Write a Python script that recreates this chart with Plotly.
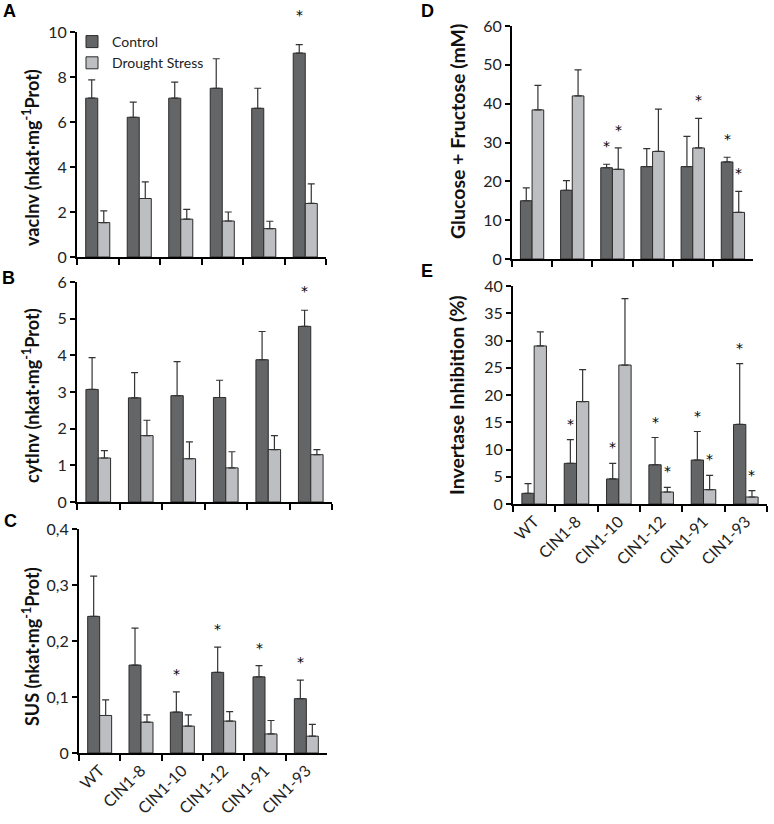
import plotly.graph_objects as go

categories = ["WT", "CIN1-8", "CIN1-10", "CIN1-12", "CIN1-91", "CIN1-93"]

# Panel A: vacInv
vac_control = [7.06, 6.21, 7.06, 7.50, 6.61, 9.06]
vac_control_sd = [0.81, 0.67, 0.71, 1.31, 0.89, 0.38]
vac_drought = [1.53, 2.60, 1.68, 1.60, 1.26, 2.38]
vac_drought_sd = [0.52, 0.74, 0.44, 0.40, 0.33, 0.87]
vac_control_sig = [0, 0, 0, 0, 0, 1]
vac_drought_sig = [0, 0, 0, 0, 0, 0]

# Panel B: cytInv
cyt_control = [3.07, 2.84, 2.90, 2.85, 3.88, 4.79]
cyt_control_sd = [0.87, 0.69, 0.93, 0.47, 0.77, 0.44]
cyt_drought = [1.20, 1.81, 1.18, 0.93, 1.43, 1.29]
cyt_drought_sd = [0.20, 0.42, 0.46, 0.44, 0.38, 0.14]
cyt_control_sig = [0, 0, 0, 0, 0, 1]
cyt_drought_sig = [0, 0, 0, 0, 0, 0]

# Panel C: SUS
sus_control = [0.244, 0.157, 0.073, 0.144, 0.136, 0.097]
sus_control_sd = [0.072, 0.066, 0.036, 0.045, 0.020, 0.033]
sus_drought = [0.067, 0.055, 0.048, 0.057, 0.034, 0.030]
sus_drought_sd = [0.028, 0.013, 0.020, 0.017, 0.024, 0.021]
sus_control_sig = [0, 0, 1, 1, 1, 1]
sus_drought_sig = [0, 0, 0, 0, 0, 0]

# Panel D: Glucose + Fructose
glc_control = [15.0, 17.7, 23.5, 23.8, 23.8, 25.0]
glc_control_sd = [3.3, 2.5, 0.9, 4.6, 7.8, 1.2]
glc_drought = [38.4, 42.0, 23.1, 27.7, 28.6, 12.0]
glc_drought_sd = [6.3, 6.7, 5.5, 10.9, 7.6, 5.4]
glc_control_sig = [0, 0, 1, 0, 0, 1]
glc_drought_sig = [0, 0, 1, 0, 1, 1]

# Panel E: Invertase inhibition
inh_control = [1.96, 7.46, 4.60, 7.20, 8.07, 14.6]
inh_control_sd = [1.77, 4.34, 2.86, 5.00, 5.23, 11.15]
inh_drought = [29.0, 18.8, 25.5, 2.20, 2.63, 1.28]
inh_drought_sd = [2.60, 5.85, 12.2, 0.86, 2.63, 1.17]
inh_control_sig = [0, 1, 1, 1, 1, 1]
inh_drought_sig = [0, 0, 0, 1, 1, 1]

W, H = 774, 824
FONT = "Lato"
CTRL_COLOR = "#646567"
DR_COLOR = "#BDBEC1"
EDGE = "#2b2b2b"


def fx(px):
    return px / W


def fy(py):
    return 1 - py / H


panels = [
    dict(letter="A", ctrl=vac_control, csd=vac_control_sd, dr=vac_drought, dsd=vac_drought_sd,
         csig=vac_control_sig, dsig=vac_drought_sig, yr=[0, 10], dtick=2,
         title="vacInv (nkat·mg<sup>-1</sup>Prot)", xd=(77, 326), yd=(257, 32),
         labels=False, tpos=(31, 158), tsize=18, lpos=(9, 11), star_shift=20),
    dict(letter="B", ctrl=cyt_control, csd=cyt_control_sd, dr=cyt_drought, dsd=cyt_drought_sd,
         csig=cyt_control_sig, dsig=cyt_drought_sig, yr=[0, 6], dtick=1,
         title="cytInv (nkat·mg<sup>-1</sup>Prot)", xd=(77, 332), yd=(502, 282),
         labels=False, tpos=(31, 396), tsize=18, lpos=(8, 278), star_shift=9),
    dict(letter="C", ctrl=sus_control, csd=sus_control_sd, dr=sus_drought, dsd=sus_drought_sd,
         csig=sus_control_sig, dsig=sus_drought_sig, yr=[0, 0.4], dtick=0.1,
         title="SUS (nkat·mg<sup>-1</sup>Prot)", xd=(79, 327), yd=(753, 529),
         labels=True, tpos=(31, 647), tsize=18, lpos=(10, 521), star_shift=8),
    dict(letter="D", ctrl=glc_control, csd=glc_control_sd, dr=glc_drought, dsd=glc_drought_sd,
         csig=glc_control_sig, dsig=glc_drought_sig, yr=[0, 60], dtick=10,
         title="Glucose + Fructose (mM)", xd=(512, 753), yd=(259, 26),
         labels=False, tpos=(457, 132), tsize=19.5, lpos=(428, 11), star_shift=8),
    dict(letter="E", ctrl=inh_control, csd=inh_control_sd, dr=inh_drought, dsd=inh_drought_sd,
         csig=inh_control_sig, dsig=inh_drought_sig, yr=[0, 40], dtick=5,
         title="Invertase Inhibition (%)", xd=(513, 767), yd=(504, 286),
         labels=True, tpos=(456, 395), tsize=19.5, lpos=(427, 271), star_shift=6),
]

fig = go.Figure()
annotations = []
layout_axes = {}

BARGAP = 0.42
half_off = (1 - BARGAP) / 4  # offset of each bar centre from category centre

for i, p in enumerate(panels):
    n = i + 1
    xa = "x" if n == 1 else f"x{n}"
    ya = "y" if n == 1 else f"y{n}"
    for name, vals, sd, color in [("Control", p["ctrl"], p["csd"], CTRL_COLOR),
                                  ("Drought Stress", p["dr"], p["dsd"], DR_COLOR)]:
        fig.add_trace(go.Bar(
            x=categories, y=vals, name=name, xaxis=xa, yaxis=ya,
            marker=dict(color=color, line=dict(color=EDGE, width=1)),
            error_y=dict(type="data", symmetric=False, array=sd,
                         arrayminus=[0] * len(sd), color="#333333",
                         thickness=1.2, width=3.5),
            showlegend=(n == 1), legendgroup=name,
        ))
    # significance stars
    for sig, vals, sd, off in [(p["csig"], p["ctrl"], p["csd"], -half_off),
                               (p["dsig"], p["dr"], p["dsd"], half_off)]:
        for k, s in enumerate(sig):
            if s:
                annotations.append(dict(
                    x=k + off, y=vals[k] + sd[k], xref=xa, yref=ya,
                    text="*", showarrow=False, yanchor="bottom",
                    yshift=p["star_shift"], font=dict(family="DejaVu Sans", size=14, color="#000")))
    # axis titles
    annotations.append(dict(
        x=fx(p["tpos"][0]), y=fy(p["tpos"][1]), xref="paper", yref="paper",
        text="<b>" + p["title"] + "</b>", textangle=-90, showarrow=False,
        xanchor="center", yanchor="middle", font=dict(family=FONT, size=p["tsize"], color="#111")))
    # panel letters
    annotations.append(dict(
        x=fx(p["lpos"][0]), y=fy(p["lpos"][1]), xref="paper", yref="paper",
        text="<b>" + p["letter"] + "</b>", showarrow=False,
        xanchor="center", yanchor="middle", font=dict(family="Liberation Sans", size=18, color="#000")))

    xkey = "xaxis" if n == 1 else f"xaxis{n}"
    ykey = "yaxis" if n == 1 else f"yaxis{n}"
    layout_axes[xkey] = dict(
        domain=[fx(p["xd"][0]), fx(p["xd"][1])], anchor=ya,
        type="category", range=[-0.5, 5.5], tickson="boundaries",
        ticks="outside", ticklen=6, tickwidth=1.5, tickcolor="#000",
        showline=True, linecolor="#000", linewidth=2,
        showgrid=False, zeroline=False, automargin=False,
        showticklabels=p["labels"], tickangle=-45,
        tickfont=dict(family=FONT, size=16, color="#222"),
    )
    layout_axes[ykey] = dict(
        domain=[fy(p["yd"][0]), fy(p["yd"][1])], anchor=xa,
        range=p["yr"], dtick=p["dtick"], tick0=0,
        ticks="outside", ticklen=5, tickwidth=1.5, tickcolor="#000",
        showline=True, linecolor="#000", linewidth=2,
        showgrid=False, zeroline=False, automargin=False,
        tickfont=dict(family=FONT, size=16, color="#222"),
    )

fig.update_layout(
    width=W, height=H,
    margin=dict(l=0, r=0, t=0, b=0, autoexpand=False),
    paper_bgcolor="white", plot_bgcolor="white",
    barmode="group", bargap=BARGAP, bargroupgap=0,
    separators=", ",
    annotations=annotations,
    legend=dict(x=fx(72), y=fy(26), xanchor="left", yanchor="top",
                bgcolor="rgba(0,0,0,0)", font=dict(family=FONT, size=14, color="#222"),
                tracegroupgap=0, itemwidth=30),
    **layout_axes,
)

fig.write_html("out.html", config={"displayModeBar": False},
               post_script="document.body.style.margin='0';")
